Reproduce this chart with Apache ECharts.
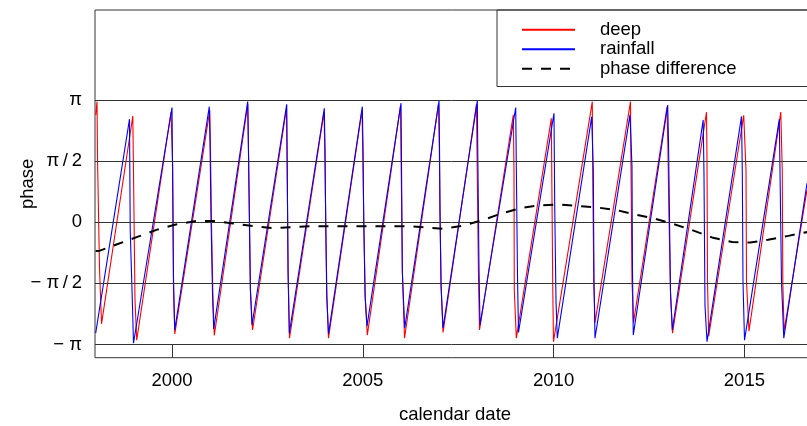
<!DOCTYPE html>
<html>
<head>
<meta charset="utf-8">
<script src="https://cdn.jsdelivr.net/npm/echarts@6/dist/echarts.min.js"></script>
<style>
  html, body { margin: 0; padding: 0; background: #fff; }
  #chart { width: 807px; height: 426px; }
</style>
</head>
<body>
<div id="chart"></div>
<script>
// Phase of the annual cycle in deep groundwater and rainfall, and their phase difference.

// x axis (calendar date, decimal years)
const xTickYears = [2000, 2005, 2010, 2015];
const xMin = 1997.982;
const xMax = 2016.85;

// y axis (phase, radians)
const yTickValues = [-Math.PI, -Math.PI / 2, 0, Math.PI / 2, Math.PI];
const yTickLabels = ['\u2212 \u03C0', '\u2212 \u03C0\u2009/\u20092', '0', '\u03C0\u2009/\u20092', '\u03C0'];
const yMin = -3.481;
const yMax = 5.455;

// rainfall phase: vertices of each yearly ramp and its wrap-around drop
const rainYear = [
  1998.000, 1998.886, 1998.905, 1998.965, 1998.991,
  2000.000, 2000.013, 2000.039, 2000.071,
  2000.977, 2000.996, 2001.022, 2001.061, 2001.093,
  2001.984, 2002.000, 2002.026, 2002.052, 2002.096,
  2003.006, 2003.019, 2003.040, 2003.074,
  2003.991, 2004.009, 2004.028, 2004.054, 2004.101,
  2004.987, 2005.005, 2005.024, 2005.058, 2005.110,
  2006.001, 2006.014, 2006.035, 2006.098,
  2006.997, 2007.010, 2007.023, 2007.049, 2007.102,
  2008.001, 2008.014, 2008.045, 2008.071,
  2009.007, 2009.022, 2009.054, 2009.080,
  2010.010, 2010.029, 2010.063, 2010.097,
  2010.998, 2011.040, 2011.059, 2011.085,
  2012.002, 2012.054, 2012.067, 2012.088,
  2012.990, 2013.011, 2013.037, 2013.063, 2013.111,
  2013.920, 2013.941, 2013.967, 2014.020,
  2014.924, 2014.945, 2014.963, 2015.003,
  2015.915, 2015.933, 2015.972, 2016.032,
  2016.640
];
const rainPhase = [
  -2.85, 2.65, -0.20, -2.17, -3.11,
  2.95, 1.47, -1.40, -2.77,
  2.97, 2.03, 0.14, -1.82, -2.74,
  3.10, 2.07, 0.19, -1.70, -2.64,
  3.03, 1.56, -1.27, -2.85,
  2.93, 1.93, 0.02, -1.87, -2.87,
  2.97, 1.99, 0.11, -1.87, -2.67,
  3.06, 1.56, -1.27, -2.72,
  3.12, 1.99, 0.24, -1.61, -2.72,
  3.12, 1.69, -1.18, -2.64,
  2.95, 1.52, -1.40, -2.83,
  2.80, 0.44, -2.04, -2.98,
  2.71, 1.34, -1.57, -2.98,
  2.76, 1.43, -1.23, -2.90,
  3.01, 2.07, 0.14, -1.79, -2.77,
  2.63, 1.22, -2.13, -3.07,
  2.72, 1.30, -1.53, -3.03,
  2.65, 1.30, -1.53, -2.98,
  1.00
];

// deep groundwater phase
const deepYear = [
  1998.000, 1998.035, 1998.048, 1998.100, 1998.153,
  1998.973, 1998.986, 1999.030, 1999.075,
  1999.974, 2000.018, 2000.039, 2000.073,
  2000.991, 2001.009, 2001.035, 2001.074, 2001.108,
  2001.986, 2002.003, 2002.030, 2002.058, 2002.110,
  2003.001, 2003.016, 2003.045, 2003.079,
  2003.983, 2004.004, 2004.030, 2004.060, 2004.101,
  2004.979, 2004.998, 2005.025, 2005.065, 2005.118,
  2005.988, 2006.005, 2006.040, 2006.093,
  2006.984, 2007.005, 2007.025, 2007.055, 2007.102,
  2007.979, 2007.995, 2008.030, 2008.058,
  2008.944, 2008.962, 2008.970, 2009.023,
  2009.940, 2009.958, 2009.977, 2009.997,
  2011.014, 2011.027, 2011.053, 2011.085,
  2012.015, 2012.028, 2012.054, 2012.093,
  2012.972, 2012.995, 2013.025, 2013.065, 2013.116,
  2014.007, 2014.020, 2014.033, 2014.064,
  2014.982, 2015.042, 2015.055, 2015.120,
  2015.953, 2015.992, 2016.006, 2016.040,
  2016.640
];
const deepPhase = [
  2.76, 3.10, 1.64, -1.18, -2.61,
  2.73, 1.69, -1.99, -3.03,
  2.83, 1.43, -1.74, -2.87,
  2.88, 1.83, -0.07, -1.99, -2.91,
  3.04, 1.95, 0.10, -1.80, -2.77,
  2.93, 1.45, -1.35, -2.98,
  2.83, 1.85, -0.05, -1.95, -2.98,
  2.88, 1.90, 0.05, -1.95, -2.90,
  2.99, 1.45, -1.35, -2.98,
  3.04, 1.90, 0.15, -1.70, -2.83,
  3.04, 1.60, -1.25, -2.77,
  2.76, 1.34, -1.74, -2.98,
  2.67, 0.57, -1.61, -3.07,
  3.10, 1.08, -1.49, -2.58,
  3.10, 1.43, -1.49, -2.58,
  2.96, 1.95, 0.05, -1.85, -2.85,
  2.83, 1.60, -1.53, -2.93,
  2.75, 1.34, -1.53, -2.80,
  2.83, 1.34, -1.53, -2.80,
  0.83
];

// phase difference (deep minus rainfall)
const diffYear = [
  1998.00, 1998.11, 1998.58, 1999.11, 1999.61, 2000.10, 2000.63, 2001.13,
  2001.60, 2002.12, 2002.62, 2003.14, 2003.62, 2004.14, 2004.61, 2005.14,
  2005.63, 2006.16, 2006.63, 2007.10, 2007.63, 2008.12, 2008.65, 2009.12,
  2009.59, 2010.12, 2010.61, 2011.14, 2011.66, 2012.13, 2012.66, 2013.13,
  2013.65, 2014.15, 2014.68, 2015.15, 2015.62, 2016.15, 2016.66
];
const diffPhase = [
  -0.74, -0.73, -0.56, -0.37, -0.19, -0.06, 0.03, 0.03,
  -0.03, -0.10, -0.15, -0.13, -0.10, -0.10, -0.10, -0.10,
  -0.10, -0.10, -0.13, -0.17, -0.09, 0.05, 0.23, 0.36,
  0.43, 0.46, 0.42, 0.38, 0.31, 0.20, 0.09, -0.04,
  -0.21, -0.39, -0.51, -0.52, -0.45, -0.35, -0.25
];

const zip = (xs, ys) => xs.map((x, i) => [x, ys[i]]);
const FONT = "'Liberation Sans', Arial, sans-serif";
const FS = 18.5;
const RULE = { color: '#333', width: 1, type: 'solid' };

// horizontal rules at the labelled phases, plus short year ticks rising from the bottom frame
const guideLines = yTickValues.map(v => ({ yAxis: v }))
  .concat(xTickYears.map(yr => [{ coord: [yr, yMin] }, { coord: [yr, -Math.PI] }]));

const chart = echarts.init(document.getElementById('chart'), null, { renderer: 'canvas' });

chart.setOption({
  animation: false,
  backgroundColor: '#ffffff',
  textStyle: { fontFamily: FONT },
  grid: {
    left: 95, top: 10, width: 720, height: 347.7,
    outerBoundsMode: 'none',
    containLabel: false,
    show: true, borderColor: '#333', borderWidth: 1,
    backgroundColor: 'transparent'
  },
  legend: {
    data: ['deep', 'rainfall', 'phase difference'],
    orient: 'vertical',
    left: 497, top: 10,
    padding: [10, 80, 8, 24],
    itemGap: 0,
    itemWidth: 53,
    itemHeight: 19.5,
    borderColor: '#333',
    borderWidth: 1,
    selectedMode: false,
    itemStyle: { opacity: 0 },
    textStyle: {
      fontFamily: FONT, fontSize: FS, color: '#000',
      lineHeight: 19.5, padding: [0, 0, 0, 20]
    }
  },
  xAxis: {
    type: 'value',
    min: xMin, max: xMax,
    name: 'calendar date',
    nameLocation: 'middle',
    nameGap: 48,
    nameMoveOverlap: false,
    nameTextStyle: { fontFamily: FONT, fontSize: FS, color: '#000' },
    axisLine: { show: false },
    axisTick: { show: false },
    axisLabel: {
      customValues: xTickYears,
      margin: 14,
      fontFamily: FONT, fontSize: FS, color: '#000',
      formatter: v => String(Math.round(v))
    },
    splitLine: { show: false }
  },
  yAxis: {
    type: 'value',
    min: yMin, max: yMax,
    name: 'phase',
    nameLocation: 'middle',
    nameGap: 58,
    nameMoveOverlap: false,
    nameRotate: 90,
    nameTextStyle: { fontFamily: FONT, fontSize: FS, color: '#000' },
    axisLine: { show: false },
    axisTick: { show: false },
    axisLabel: {
      customValues: yTickValues,
      margin: 13,
      fontFamily: FONT, fontSize: FS, color: '#000',
      formatter: v => {
        const i = yTickValues.findIndex(t => Math.abs(t - v) < 1e-6);
        return i >= 0 ? yTickLabels[i] : '';
      }
    },
    splitLine: { show: false }
  },
  series: [
    {
      name: 'guides',
      type: 'line',
      data: [],
      z: 1,
      silent: true,
      markLine: {
        silent: true,
        symbol: ['none', 'none'],
        label: { show: false },
        lineStyle: RULE,
        data: guideLines
      }
    },
    {
      name: 'deep',
      type: 'line',
      data: zip(deepYear, deepPhase),
      symbol: 'none',
      z: 3,
      lineStyle: { color: '#ff0000', width: 1.1 },
      itemStyle: { color: '#ff0000' }
    },
    {
      name: 'rainfall',
      type: 'line',
      data: zip(rainYear, rainPhase),
      symbol: 'none',
      z: 4,
      lineStyle: { color: '#0000ff', width: 1.1 },
      itemStyle: { color: '#0000ff' }
    },
    {
      name: 'phase difference',
      type: 'line',
      data: zip(diffYear, diffPhase),
      symbol: 'none',
      z: 5,
      lineStyle: { color: '#000', width: 2, type: [10, 9], cap: 'butt' },
      itemStyle: { color: '#000' }
    }
  ]
});
</script>
</body>
</html>
